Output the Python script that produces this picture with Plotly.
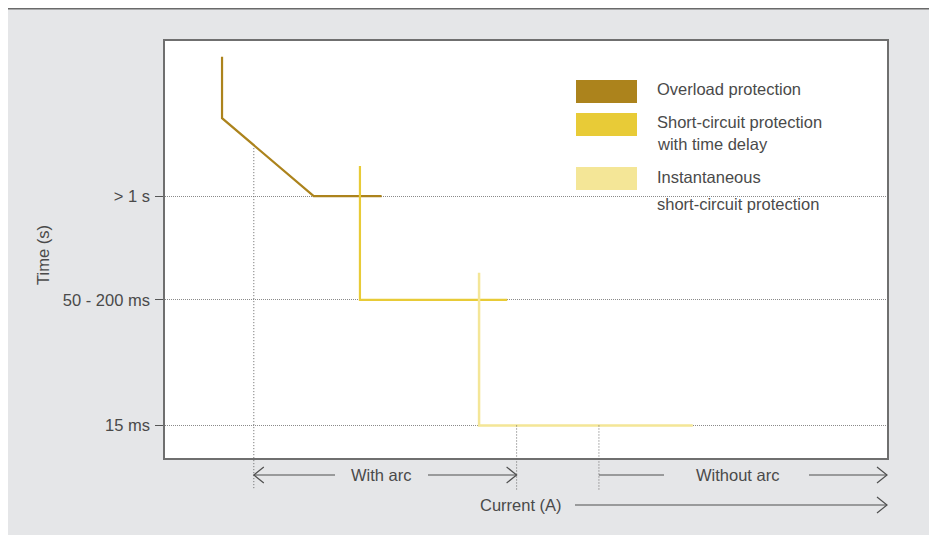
import plotly.graph_objects as go

# ---------------- data ----------------
series_names = ["Overload protection", "Short-circuit protection", "Instantaneous"]
series_sublines = ["", "with time delay", "short-circuit protection"]
series_colors = ["#AC831C", "#E8CB37", "#F4E697"]

overload_x = [7.9, 7.9, 20.6, 30.0]
overload_y = [9.62, 8.15, 6.28, 6.28]
delay_x = [27.0, 27.0, 47.4]
delay_y = [7.00, 3.79, 3.79]
inst_x = [43.5, 43.5, 73.1]
inst_y = [4.44, 0.78, 0.78]

y_tick_vals = [0.78, 3.79, 6.28]
y_tick_text = ["15 ms", "50 - 200 ms", "> 1 s"]

arc_limit_x = [12.3, 48.7, 60.1]   # dotted guides: arc start, with-arc end, without-arc start
arc_guide_top = [7.43, 0.78, 0.78]

X_RANGE = [0, 100]
Y_RANGE = [0, 10]

# ---------------- layout geometry (page pixels; page body has an 8px margin) ----------------
OFF = 8
W, H = 925, 527
L, R, T, B = 165, 887, 41, 458      # plot area in page pixels
PW, PH = R - L, B - T


def px(xp):
    return (xp - L) / PW


def py(yp):
    return (B - yp) / PH


def xp_data(v):
    return (v - X_RANGE[0]) / (X_RANGE[1] - X_RANGE[0])


def yp_data(v):
    return (v - Y_RANGE[0]) / (Y_RANGE[1] - Y_RANGE[0])


FONT = "Liberation Sans, Arial, sans-serif"
FS = 16.5
TXT = "#4a4a4a"
GRAY_BG = "#E5E6E8"

fig = go.Figure()
for xs, ys, c, w in [(overload_x, overload_y, series_colors[0], 2.2),
                     (delay_x, delay_y, series_colors[1], 2.2),
                     (inst_x, inst_y, series_colors[2], 2.5)]:
    fig.add_trace(go.Scatter(x=xs, y=ys, mode="lines", line=dict(color=c, width=w),
                             showlegend=False, hoverinfo="skip"))

shapes = []
# dark top rule of the panel
shapes.append(dict(type="line", xref="paper", yref="paper", x0=px(OFF), x1=px(OFF + W), y0=py(OFF + 0.75),
                   y1=py(OFF + 0.75), line=dict(color="#6a6a6a", width=1.5), layer="above"))

# dotted guide lines extending below the plot
for gx, gt in zip(arc_limit_x, arc_guide_top):
    xp = xp_data(gx)
    shapes.append(dict(type="line", xref="paper", yref="paper", x0=xp, x1=xp, y0=yp_data(gt), y1=py(490),
                       line=dict(color="#666666", width=1, dash="1px,2px"), layer="above"))

# legend swatches
sw_tops = [80, 113, 167]
for top, c in zip(sw_tops, series_colors):
    shapes.append(dict(type="rect", xref="paper", yref="paper", x0=px(576), x1=px(637),
                       y0=py(top + 23), y1=py(top), fillcolor=c, line_width=0))

annotations = []
leg_text_y = [89, 121.5, 144, 176.5, 203.5]
leg_lines = [series_names[0], series_names[1], series_sublines[1], series_names[2], series_sublines[2]]
for ty, name in zip(leg_text_y, leg_lines):
    annotations.append(dict(xref="paper", yref="paper", x=px(655), y=py(ty), text=name,
                            showarrow=False, xanchor="left", yanchor="middle", align="left",
                            font=dict(family=FONT, size=FS, color=TXT)))

# axis title
annotations.append(dict(xref="paper", yref="paper", x=px(43), y=py(255), text="Time (s)",
                        textangle=-90, showarrow=False, xanchor="center", yanchor="middle",
                        font=dict(family=FONT, size=FS, color=TXT)))

ARROW = "#4f4f4f"
HEAD_LEN, HEAD_HALF = 10, 8   # pixels


def arrow(x_tail, x_head, y_page, head=True):
    """x_tail / x_head in paper units, y in page pixels."""
    y = py(y_page)
    shapes.append(dict(type="line", xref="paper", yref="paper", x0=x_tail, x1=x_head, y0=y, y1=y,
                       line=dict(color=ARROW, width=1.2), layer="above"))
    if head:
        d = 1 if x_head > x_tail else -1
        bx = x_head - d * HEAD_LEN / PW
        path = "M {a},{b} L {c},{e} L {a},{f}".format(
            a=bx, b=py(y_page - HEAD_HALF), c=x_head, e=y, f=py(y_page + HEAD_HALF))
        shapes.append(dict(type="path", xref="paper", yref="paper", path=path,
                           line=dict(color=ARROW, width=1.2), layer="above"))


ROW1, ROW2 = 475, 505
arrow(px(335), xp_data(arc_limit_x[0]), ROW1)
arrow(px(428), xp_data(arc_limit_x[1]), ROW1)
arrow(px(664), xp_data(arc_limit_x[2]), ROW1, head=False)
arrow(px(809), 1.0, ROW1)
arrow(px(575), 1.0, ROW2)

annotations.append(dict(xref="paper", yref="paper", x=px(381), y=py(ROW1), text="With arc", showarrow=False,
                        xanchor="center", yanchor="middle", font=dict(family=FONT, size=FS, color=TXT)))
annotations.append(dict(xref="paper", yref="paper", x=px(737), y=py(ROW1), text="Without arc", showarrow=False,
                        xanchor="center", yanchor="middle", font=dict(family=FONT, size=FS, color=TXT)))
annotations.append(dict(xref="paper", yref="paper", x=px(521), y=py(ROW2), text="Current (A)", showarrow=False,
                        xanchor="center", yanchor="middle", font=dict(family=FONT, size=FS, color=TXT)))

fig.update_layout(
    width=W, height=H,
    margin=dict(l=L - OFF, r=(OFF + W) - R, t=T - OFF, b=(OFF + H) - B, pad=0),
    paper_bgcolor=GRAY_BG, plot_bgcolor="white",
    shapes=shapes, annotations=annotations,
    font=dict(family=FONT, size=FS, color=TXT),
    xaxis=dict(range=X_RANGE, showgrid=False, zeroline=False, showticklabels=False, ticks="",
               showline=True, mirror=True, linecolor="#6f6f6f", linewidth=1.5, fixedrange=True),
    yaxis=dict(range=Y_RANGE, tickvals=y_tick_vals, ticktext=y_tick_text, ticks="outside",
               ticklen=8, tickcolor="#555555", tickwidth=1, showgrid=True, gridcolor="#8a8a8a",
               griddash="1px,1px", gridwidth=1, zeroline=False, showline=True, mirror=True,
               linecolor="#6f6f6f", linewidth=1.5, ticklabelstandoff=2,
               tickfont=dict(family=FONT, size=FS, color=TXT), fixedrange=True),
    showlegend=False,
)

fig.write_html("out.html")
